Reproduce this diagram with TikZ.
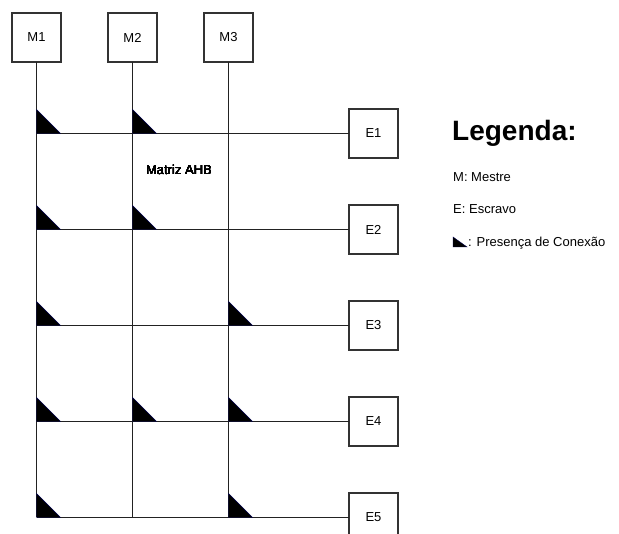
\documentclass[tikz,border=0pt]{standalone}
\usepackage{fontspec}
\setmainfont{Liberation Sans}
\usetikzlibrary{positioning}
\definecolor{ahbline}{RGB}{34,34,34}
\definecolor{ahbbox}{RGB}{51,51,51}
\tikzset{
  unitbox/.style={draw=ahbbox, line width=1.1pt, fill=white, minimum size=49pt,
    inner sep=0pt, outer sep=0pt, font=\fontsize{13}{15}\selectfont},
  bus/.style={draw=ahbline, line width=1pt},
  legtext/.style={anchor=base west, inner sep=0pt, font=\fontsize{13}{15}\selectfont},
  conn/.style={fill=black, draw=black!70!blue, line width=0.4pt}
}
\newcommand{\conntri}[3]{\filldraw[conn] (#1) -- ++(0,-#3) -- ++(#2,#3) -- cycle;}

\begin{document}
\begin{tikzpicture}[x=1pt, y=-1pt, node distance=47pt]
  \useasboundingbox (0,0) rectangle (619,534);
  % mestres
  \node[unitbox] (m1) at (36.5,37.5) {M1};
  \node[unitbox, right=of m1] (m2) {M2};
  \node[unitbox, right=of m2] (m3) {M3};
  % escravos
  \node[unitbox] (e1) at (373.5,133.5) {E1};
  \node[unitbox, below=of e1] (e2) {E2};
  \node[unitbox, below=of e2] (e3) {E3};
  \node[unitbox, below=of e3] (e4) {E4};
  \node[unitbox, below=of e4] (e5) {E5};
  % barramentos
  \foreach \i in {1,2,3}
    \draw[bus] (m\i) -- (m\i |- e5.west);
  \foreach \j in {1,...,5}
    \draw[bus] (m1 |- e\j) -- (e\j);
  % conexoes
  \foreach \i/\j in {1/1,2/1,1/2,2/2,1/3,3/3,1/4,2/4,3/4,1/5,3/5}
    \conntri{m\i |- e\j}{24}{24}
  \node[anchor=base, inner sep=0pt, font=\fontsize{13}{15}\selectfont] (matriz) at (179,175) {Matriz AHB};
  % legenda
  \node[anchor=base west, inner sep=0pt, font=\fontsize{28}{32}\selectfont\bfseries] (leg) at (452,141) {Legenda:};
  \node[legtext] (legm) at (453,182) {M: Mestre};
  \node[legtext] (lege) at (453,214) {E: Escravo};
  \coordinate (legt) at (453,247);
  \conntri{legt}{14}{10}
  \node[legtext] (legc) at (468,247) {: Presença de Conexão};
\end{tikzpicture}
\end{document}
